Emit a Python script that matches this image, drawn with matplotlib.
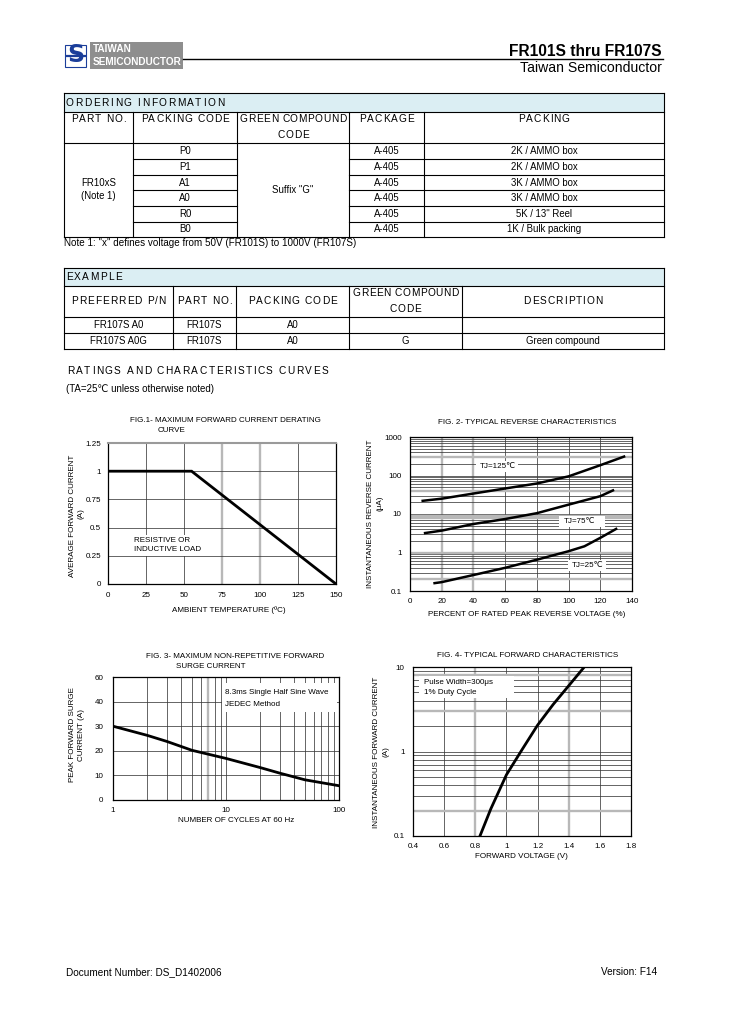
import matplotlib
matplotlib.use('Agg')
import matplotlib.pyplot as plt
from matplotlib.patches import Rectangle
from matplotlib.ticker import NullLocator, FixedLocator, FixedFormatter

W, H = 729, 1032
DPI = 100
plt.rcParams['font.family'] = ['Liberation Sans', 'DejaVu Sans']

# ---------------- data ----------------
title_main = "FR101S thru FR107S"
title_sub = "Taiwan Semiconductor"

ord_headers = ["PART NO.", "PACKING CODE", "GREEN COMPOUND", "PACKAGE", "PACKING"]
ord_part = ["FR10xS", "(Note 1)"]
ord_packing_codes = ["P0", "P1", "A1", "A0", "R0", "B0"]
ord_green = 'Suffix "G"'
ord_packages = ["A-405", "A-405", "A-405", "A-405", "A-405", "A-405"]
ord_packings = ["2K / AMMO box", "2K / AMMO box", "3K / AMMO box", "3K / AMMO box",
                '5K / 13" Reel', "1K / Bulk packing"]
ord_note = 'Note 1: "x" defines voltage from 50V (FR101S) to 1000V (FR107S)'

ex_headers = ["PREFERRED P/N", "PART NO.", "PACKING CODE", "GREEN COMPOUND", "DESCRIPTION"]
ex_rows = [["FR107S A0", "FR107S", "A0", "", ""],
           ["FR107S A0G", "FR107S", "A0", "G", "Green compound"]]

# Fig.1 derating curve
f1_temp = [0, 55, 150]
f1_current = [1.0, 1.0, 0.0]
f1_xticks = [0, 25, 50, 75, 100, 125, 150]
f1_yticks = [0, 0.25, 0.5, 0.75, 1, 1.25]
f1_ylabels = ["0", "0.25", "0.5", "0.75", "1", "1.25"]

# Fig.2 reverse characteristics
f2_x125 = [8, 20, 40, 60, 80, 100, 120, 135]
f2_y125 = [22, 25, 34, 46, 62, 95, 185, 310]
f2_x75 = [9.5, 20, 40, 60, 80, 100, 120, 128]
f2_y75 = [3.2, 3.7, 5.5, 7.4, 10.5, 17.5, 29, 41]
f2_x25 = [15.5, 20, 40, 60, 80, 100, 110, 120, 130]
f2_y25 = [0.16, 0.17, 0.26, 0.40, 0.65, 1.08, 1.45, 2.4, 4.1]
f2_xticks = [0, 20, 40, 60, 80, 100, 120, 140]
f2_yticks = [0.1, 1, 10, 100, 1000]
f2_ylabels = ["0.1", "1", "10", "100", "1000"]

# Fig.3 surge current (top tick printed as "60" in the original)
f3_cycles = [1, 2, 3, 5, 10, 20, 30, 50, 100]
f3_current = [30, 26.3, 23.8, 20.2, 16.9, 13.2, 10.9, 8.2, 5.8]
f3_yticks = [0, 10, 20, 30, 40, 50]
f3_ylabels = ["0", "10", "20", "30", "40", "60"]
f3_xticks = [1, 10, 100]
f3_xlabels = ["1", "10", "100"]

# Fig.4 forward characteristics
f4_volt = [0.83, 0.9, 1.0, 1.1, 1.2, 1.3, 1.4, 1.5]
f4_curr = [0.1, 0.21, 0.53, 1.05, 2.05, 3.6, 6.0, 10.0]
f4_xticks = [0.4, 0.6, 0.8, 1.0, 1.2, 1.4, 1.6, 1.8]
f4_xlabels = ["0.4", "0.6", "0.8", "1", "1.2", "1.4", "1.6", "1.8"]
f4_yticks = [0.1, 1, 10]
f4_ylabels = ["0.1", "1", "10"]

# ---------------- figure ----------------
fig = plt.figure(figsize=(W / DPI, H / DPI), dpi=DPI)
page = fig.add_axes([0, 0, 1, 1])
page.set_xlim(0, W)
page.set_ylim(H, 0)
page.axis('off')
page.set_zorder(10)
page.patch.set_alpha(0)
renderer = fig.canvas.get_renderer()


def twidth(s, size, weight='normal'):
    t = page.text(0, 0, s, fontsize=size, fontweight=weight)
    w = t.get_window_extent(renderer).width
    t.remove()
    return w


def spaced(x, y, s, size, sp=1.0, target=None, ha='left', va='center', color='black'):
    bar = twidth('||', size)
    advs = [twidth('|' + c + '|', size) - bar for c in s]
    n = len(s)
    if target is not None and n > 1:
        sp = (target - sum(advs)) / (n - 1)
    total = sum(advs) + sp * (n - 1)
    if ha == 'center':
        x0 = x - total / 2
    elif ha == 'right':
        x0 = x - total
    else:
        x0 = x
    cx = x0
    for c, a in zip(s, advs):
        if c != ' ':
            page.text(cx, y, c, fontsize=size, ha='left', va=va, color=color)
        cx += a + sp


def hl(x0, x1, y, lw=0.8, color='black'):
    page.plot([x0, x1], [y, y], color=color, lw=lw, solid_capstyle='projecting')


def vl(x, y0, y1, lw=0.8, color='black'):
    page.plot([x, x], [y0, y1], color=color, lw=lw, solid_capstyle='projecting')


def T(x, y, s, size=6.9, ha='center', va='center', **kw):
    page.text(x, y, s, fontsize=size, ha=ha, va=va, **kw)


# ---------------- header ----------------
page.add_patch(Rectangle((90, 42), 93, 27, fc='#8e8e8e', ec='none'))
T(93, 49.5, "TAIWAN", size=7.2, ha='left', color='white', fontweight='bold')
T(93, 62, "SEMICONDUCTOR", size=7.2, ha='left', color='white', fontweight='bold')
page.add_patch(Rectangle((65.5, 44.5), 21, 22, fc='white', ec='#1b3e9a', lw=0.8))
T(76, 55.5, "S", size=17, color='#1b3e9a', fontweight='bold', family='DejaVu Sans')
hl(67, 85, 55.5, lw=1.6, color='#1b3e9a')
hl(183, 663, 59, lw=1.0)
T(662, 51, title_main, size=11.2, ha='right', fontweight='bold')
T(662, 68, title_sub, size=10.1, ha='right')

# ---------------- ordering table ----------------
oc = [64, 133, 237, 349, 424, 664]
orow = [93, 112, 143, 159, 175, 190, 206, 222, 237]
page.add_patch(Rectangle((oc[0], orow[0]), oc[-1] - oc[0], orow[1] - orow[0], fc='#dbeef3', ec='none'))
for y in (orow[0], orow[1], orow[2], orow[-1]):
    hl(oc[0], oc[-1], y)
for y in orow[3:-1]:
    hl(oc[1], oc[2], y)
    hl(oc[3], oc[-1], y)
vl(oc[0], orow[0], orow[-1])
vl(oc[-1], orow[0], orow[-1])
for x in oc[1:-1]:
    vl(x, orow[1], orow[-1])

HS = 7.3
SP = 1.0
spaced(66, 102.5, "ORDERING INFORMATION", HS, target=158)
for i, h in enumerate(ord_headers):
    tgt = 106 if h == "GREEN COMPOUND" else None
    spaced((oc[i] + oc[i + 1]) / 2, 119.5, h, HS, SP, target=tgt, ha='center')
spaced((oc[2] + oc[3]) / 2, 135, "CODE", HS, 0.6, ha='center')

T((oc[0] + oc[1]) / 2, 183, ord_part[0])
T((oc[0] + oc[1]) / 2, 196, ord_part[1])
T((oc[2] + oc[3]) / 2, 190, ord_green)
for r in range(6):
    yc = (orow[2 + r] + orow[3 + r]) / 2
    T((oc[1] + oc[2]) / 2, yc, ord_packing_codes[r])
    T((oc[3] + oc[4]) / 2, yc, ord_packages[r])
    T((oc[4] + oc[5]) / 2, yc, ord_packings[r])
T(64, 243.5, ord_note, size=7.1, ha='left')

# ---------------- example table ----------------
ec_ = [64, 173, 236, 349, 462, 664]
er = [268, 286, 317, 333, 349]
page.add_patch(Rectangle((ec_[0], er[0]), ec_[-1] - ec_[0], er[1] - er[0], fc='#dbeef3', ec='none'))
for y in er:
    hl(ec_[0], ec_[-1], y)
vl(ec_[0], er[0], er[-1])
vl(ec_[-1], er[0], er[-1])
for x in ec_[1:-1]:
    vl(x, er[1], er[-1])
spaced(66, 277, "EXAMPLE", HS, 1.3)
for i, h in enumerate(ex_headers):
    yc = 293.5 if i == 3 else 300.5
    tgt = 106 if h == "GREEN COMPOUND" else None
    spaced((ec_[i] + ec_[i + 1]) / 2, yc, h, HS, SP, target=tgt, ha='center')
spaced((ec_[3] + ec_[4]) / 2, 309, "CODE", HS, 0.6, ha='center')
for r, row in enumerate(ex_rows):
    yc = (er[2 + r] + er[3 + r]) / 2
    for i, s in enumerate(row):
        if s:
            T((ec_[i] + ec_[i + 1]) / 2, yc, s)

spaced(67, 371, "RATINGS AND CHARACTERISTICS CURVES", HS, target=261)
T(66, 389.5, "(TA=25\u2103 unless otherwise noted)", size=7.0, ha='left')

# ---------------- charts ----------------
CS = 5.8
DARK = '#3a3a3a'
GREY = '#b8b8b8'


def chart(x0, y0, x1, y1):
    ax = fig.add_axes([x0 / W, 1 - y1 / H, (x1 - x0) / W, (y1 - y0) / H])
    ax.tick_params(length=0, labelsize=CS)
    for s in ax.spines.values():
        s.set_linewidth(0.9)
        s.set_zorder(5)
    return ax


def grid(ax, vdark=(), vgrey=(), hdark=(), hgrey=()):
    for v in vdark:
        ax.axvline(v, color=DARK, lw=0.55, zorder=1)
    for v in vgrey:
        ax.axvline(v, color=GREY, lw=1.7, zorder=1)
    for v in hdark:
        ax.axhline(v, color=DARK, lw=0.55, zorder=1)
    for v in hgrey:
        ax.axhline(v, color=GREY, lw=1.7, zorder=1)


def whitebox(x0, y0, x1, y1):
    page.add_patch(Rectangle((x0, y0), x1 - x0, y1 - y0, fc='white', ec='none'))


# Fig 1
ax1 = chart(108, 443, 336, 584)
grid(ax1, vdark=[25, 50, 125], vgrey=[75, 100], hdark=[0.25, 0.5, 0.75, 1.0])
ax1.plot(f1_temp, f1_current, color='black', lw=2.0, zorder=3, solid_joinstyle='miter')
ax1.set_xlim(0, 150)
ax1.set_ylim(0, 1.25)
ax1.set_xticks(f1_xticks)
ax1.set_yticks(f1_yticks)
ax1.set_yticklabels(f1_ylabels)
ax1.tick_params(axis='x', pad=6)
ax1.tick_params(axis='y', pad=5)
ax1.spines['top'].set_color('#9a9a9a')
ax1.spines['top'].set_linewidth(1.5)
T(130, 421, "FIG.1- MAXIMUM FORWARD CURRENT DERATING", size=CS, ha='left')
T(158, 430.5, "CURVE", size=CS, ha='left')
T(73, 516, "AVERAGE FORWARD CURRENT", size=CS, rotation=90)
T(81, 514, "(A)", size=CS, rotation=90)
T(229, 610, "AMBIENT TEMPERATURE (\u00baC)", size=CS)
whitebox(131, 535, 214, 556)
T(134, 540.5, "RESISTIVE OR", size=CS, ha='left')
T(134, 549.5, "INDUCTIVE LOAD", size=CS, ha='left')

# Fig 2
ax2 = chart(410, 437, 632, 591)
ax2.set_yscale('log')
minors2 = [m * 10 ** k for k in (-1, 0, 1, 2) for m in range(2, 10)]
grid(ax2, vdark=[60, 80, 100, 120], vgrey=[20, 40],
     hdark=minors2 + [1, 10, 100], hgrey=[0.2, 1, 8, 9, 40, 300])
for xs, ys in ((f2_x125, f2_y125), (f2_x75, f2_y75), (f2_x25, f2_y25)):
    ax2.plot(xs, ys, color='black', lw=1.8, zorder=3)
ax2.set_xlim(0, 140)
ax2.set_ylim(0.1, 1000)
ax2.set_xticks(f2_xticks)
ax2.yaxis.set_major_locator(FixedLocator(f2_yticks))
ax2.yaxis.set_major_formatter(FixedFormatter(f2_ylabels))
ax2.yaxis.set_minor_locator(NullLocator())
ax2.tick_params(axis='x', pad=5)
ax2.tick_params(axis='y', pad=6)
T(527.5, 422, "FIG. 2- TYPICAL REVERSE CHARACTERISTICS", size=CS)
T(371, 514, "INSTANTANEOUS REVERSE CURRENT", size=CS, rotation=90)
T(380, 503, "(\u03bcA)", size=CS, rotation=90)
T(527, 615, "PERCENT OF RATED PEAK REVERSE VOLTAGE (%)", size=CS)
whitebox(476, 461, 518, 472)
T(480, 466.5, "TJ=125\u2103", size=CS, ha='left')
whitebox(559, 516, 605, 527)
T(564, 521.5, "TJ=75\u2103", size=CS, ha='left')
whitebox(568, 560, 606, 571)
T(572, 565.5, "TJ=25\u2103", size=CS, ha='left')

# Fig 3
ax3 = chart(113, 677, 339, 800)
ax3.set_xscale('log')
v3 = [m * 10 ** k for k in (0, 1) for m in range(2, 10)]
grid(ax3, vdark=[v for v in v3 if v != 7] + [10], vgrey=[7], hdark=[10, 20, 30, 40])
ax3.plot(f3_cycles, f3_current, color='black', lw=2.0, zorder=3)
ax3.set_xlim(1, 100)
ax3.set_ylim(0, 50)
ax3.xaxis.set_major_locator(FixedLocator(f3_xticks))
ax3.xaxis.set_major_formatter(FixedFormatter(f3_xlabels))
ax3.xaxis.set_minor_locator(NullLocator())
ax3.set_yticks(f3_yticks)
ax3.set_yticklabels(f3_ylabels)
ax3.tick_params(axis='x', pad=5)
ax3.tick_params(axis='y', pad=7)
T(146, 657, "FIG. 3- MAXIMUM NON-REPETITIVE FORWARD", size=CS, ha='left')
T(176, 666.5, "SURGE CURRENT", size=CS, ha='left')
T(73, 735, "PEAK FORWARD SURGE", size=CS, rotation=90)
T(81.5, 735, "CURRENT (A)", size=CS, rotation=90)
T(236, 821, "NUMBER OF CYCLES AT 60 Hz", size=CS)
whitebox(222, 683, 337.5, 712)
T(225, 693, "8.3ms Single Half Sine Wave", size=CS, ha='left')
T(225, 704.5, "JEDEC Method", size=CS, ha='left')

# Fig 4
ax4 = chart(413, 667, 631, 836)
ax4.set_yscale('log')
minors4 = [m * 10 ** k for k in (-1, 0) for m in range(2, 10)]
grid(ax4, vdark=[0.6, 1.0, 1.2, 1.6], vgrey=[0.8, 1.4],
     hdark=minors4 + [1], hgrey=[0.2, 3, 8])
ax4.plot(f4_volt, f4_curr, color='black', lw=2.0, zorder=3)
ax4.set_xlim(0.4, 1.8)
ax4.set_ylim(0.1, 10)
ax4.set_xticks(f4_xticks)
ax4.set_xticklabels(f4_xlabels)
ax4.yaxis.set_major_locator(FixedLocator(f4_yticks))
ax4.yaxis.set_major_formatter(FixedFormatter(f4_ylabels))
ax4.yaxis.set_minor_locator(NullLocator())
ax4.tick_params(axis='x', pad=5)
ax4.tick_params(axis='y', pad=6)
T(528, 655.5, "FIG. 4- TYPICAL FORWARD CHARACTERISTICS", size=CS)
T(377, 752, "INSTANTANEOUS FORWARD CURRENT", size=CS, rotation=90)
T(386, 752, "(A)", size=CS, rotation=90)
T(521, 857, "FORWARD VOLTAGE (V)", size=CS)
whitebox(419, 676, 514, 698)
T(424, 683, "Pulse Width=300\u03bcs", size=CS, ha='left')
T(424, 692, "1% Duty Cycle", size=CS, ha='left')

# ---------------- footer ----------------
T(66, 972, "Document Number: DS_D1402006", size=7.2, ha='left')
T(657, 972, "Version: F14", size=7.2, ha='right')

fig.savefig('out.png', dpi=DPI, facecolor='white')
